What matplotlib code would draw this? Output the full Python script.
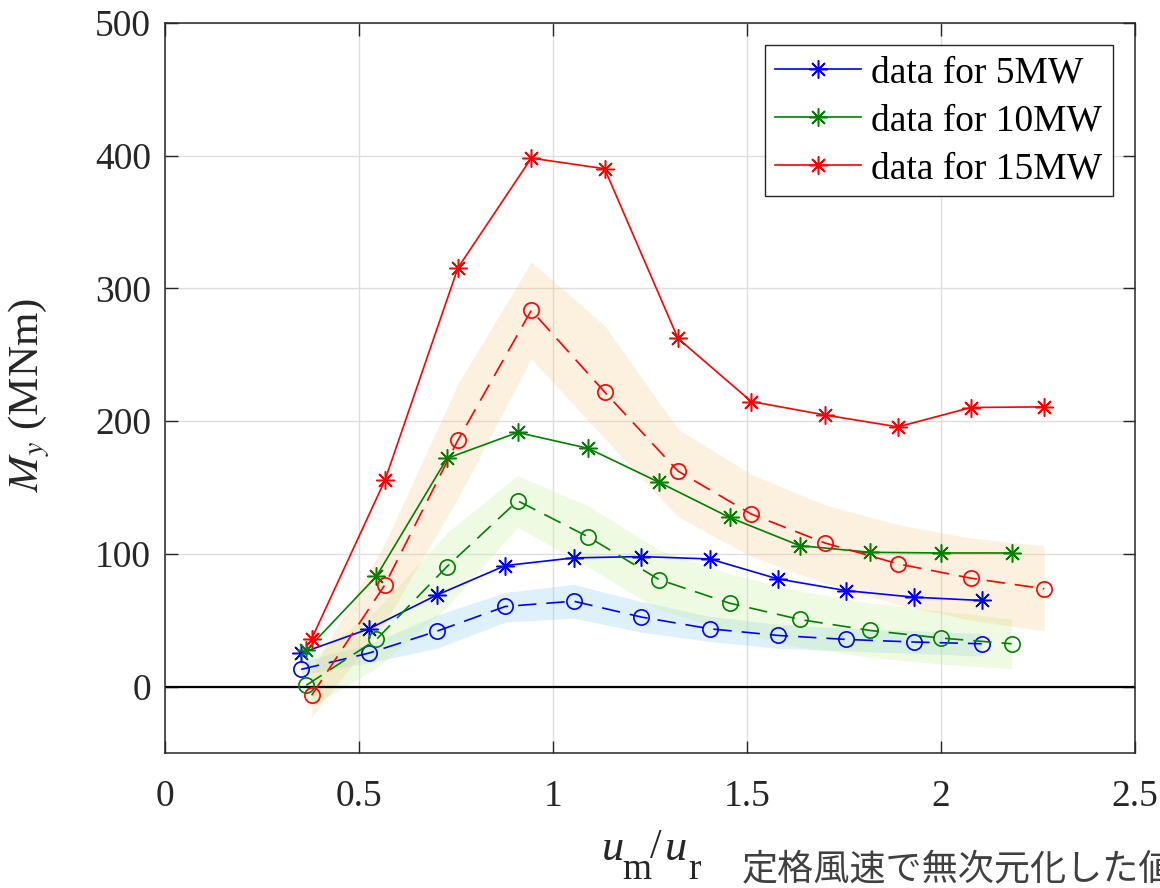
import numpy as np
import matplotlib
matplotlib.use('Agg')
import matplotlib.pyplot as plt

plt.rcParams['font.family'] = ['Liberation Serif', 'Noto Sans CJK JP']
plt.rcParams['mathtext.fontset'] = 'stix'

# wind speed normalised by rated speed, one set per turbine
x5 = [0.351, 0.526, 0.702, 0.877, 1.053, 1.228, 1.404, 1.579, 1.754, 1.930, 2.105]
x10 = [0.364, 0.545, 0.727, 0.909, 1.091, 1.273, 1.455, 1.636, 1.818, 2.000, 2.182]
x15 = [0.378, 0.567, 0.755, 0.944, 1.133, 1.322, 1.511, 1.700, 1.889, 2.077, 2.266]

# measured My (MNm)
data5 = [25.3, 43.6, 69.2, 91.2, 97.0, 98.0, 96.2, 81.2, 72.4, 67.4, 64.9]
data10 = [27.3, 83.2, 172.0, 191.5, 179.5, 154.0, 127.5, 106.2, 101.2, 100.7, 100.7]
data15 = [36.1, 155.6, 315.5, 398.2, 390.2, 262.4, 214.8, 204.7, 195.7, 210.3, 210.8]

# estimate (dashed) and its band
est5 = [13.0, 25.3, 41.9, 60.4, 64.4, 52.4, 43.6, 38.6, 35.6, 33.6, 32.3]
lo5 = [9, 18, 29, 48.6, 51.6, 41, 34, 29, 27, 25, 23]
hi5 = [19, 32, 54, 71, 77, 64, 53, 47, 44, 42, 40]

est10 = [1.0, 35.6, 90.5, 140.0, 112.8, 80.7, 62.9, 50.6, 42.3, 36.6, 32.3]
lo10 = [-17, 14, 60, 120, 90, 58, 42, 30, 22, 17, 13.5]
hi10 = [19, 58, 116, 159, 136, 103, 85, 72, 63, 57, 51]

est15 = [-6.5, 76.9, 185.7, 283.5, 222.0, 162.4, 130.0, 108.3, 92.5, 81.7, 73.7]
lo15 = [-23, 48, 142, 247, 187, 128, 98, 78, 62, 50, 42]
hi15 = [12, 108, 228, 320, 272, 194, 160, 137, 122, 112, 106]

labels = ['data for 5MW', 'data for 10MW', 'data for 15MW']
line_colors = ['#0000ff', '#008000', '#ff0000']
band_colors = [('#7cc4ee', 0.25), ('#c8f0a0', 0.3), ('#f5c77e', 0.25)]

W, H = 1160, 888
fig = plt.figure(figsize=(W / 100, H / 100), dpi=100)
ax = fig.add_axes([165 / W, 1 - 753 / H, 970 / W, 730 / H])

xs = [x5, x10, x15]
datas = [data5, data10, data15]
ests = [est5, est10, est15]
los = [lo5, lo10, lo15]
his = [hi5, hi10, hi15]

for x, lo, hi, (c, a) in zip(xs, los, his, band_colors):
    ax.fill_between(x, lo, hi, color=c, alpha=a, linewidth=0, zorder=1)

ax.axhline(0, color='k', lw=1.6, zorder=2)

asterisk = (8, 2, 0)
for x, d, e, c, lab in zip(xs, datas, ests, line_colors, labels):
    ax.plot(x, d, '-', color=c, lw=1.2, marker=asterisk, ms=13, mew=1.1,
            label=lab, zorder=3)
    ax.plot(x, e, '--', color=c, lw=1.2, dashes=(11, 6), marker='o', ms=11,
            mfc='none', mew=1.2, zorder=3)

ax.set_xlim(0, 2.5)
ax.set_ylim(-50, 500)
ax.set_xticks([0, 0.5, 1, 1.5, 2, 2.5])
ax.set_xticklabels(['0', '0.5', '1', '1.5', '2', '2.5'])
ax.set_yticks([0, 100, 200, 300, 400, 500])
ax.set_axisbelow(True)
ax.grid(True, color='#dedede', lw=1)

for s in ax.spines.values():
    s.set_color('#262626')
    s.set_linewidth(1.1)
ax.tick_params(direction='in', length=9, width=1, top=True, right=True,
               colors='#262626', labelsize=27)
ax.tick_params(axis='x', pad=19)
ax.tick_params(axis='y', pad=10)

ax.set_ylabel(r'$M_y$ (MNm)', fontsize=31, color='#262626')
ax.yaxis.set_label_coords((52 - 165) / 970, 0.49)

# x label built piecewise: italic u, upright subscripts set low
xl_parts = [
    ('u', 602, 860, 32, 'italic'),
    ('m', 622, 879, 27, 'normal'),
    ('/', 650, 858, 30, 'normal'),
    ('u', 665, 860, 32, 'italic'),
    ('r', 688, 879, 27, 'normal'),
]
for s, px, py, fs, st in xl_parts:
    fig.text(px / W, 1 - py / H, s, fontsize=fs, style=st, color='#262626',
             family='Liberation Serif', ha='left', va='baseline')

fig.text(742 / W, 1 - 870 / H, '定格風速で無次元化した値', fontsize=26,
         color='#404040', family='Noto Sans CJK JP', va='center', ha='left')

leg = ax.legend(loc='upper right', fontsize=27, fancybox=False,
                edgecolor='#262626', framealpha=1, borderaxespad=0.6,
                handlelength=2.3, handletextpad=0.27, labelspacing=0.36,
                borderpad=0.27, numpoints=1)
leg.get_frame().set_linewidth(1.0)

fig.savefig('out.png', dpi=100)
